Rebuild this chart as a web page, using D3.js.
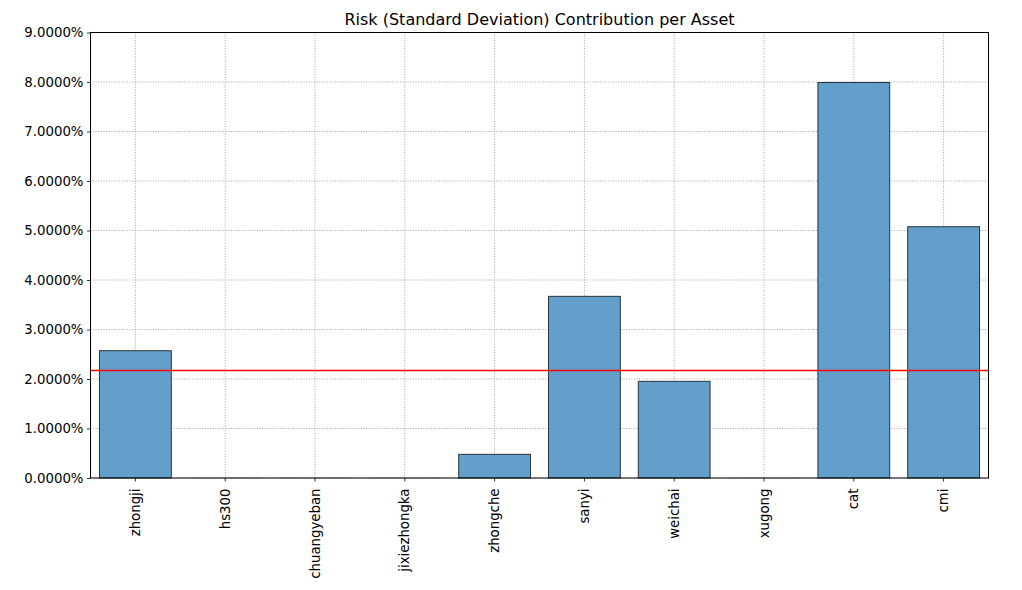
<!DOCTYPE html>
<html>
<head>
<meta charset="utf-8">
<script src="https://cdn.jsdelivr.net/npm/d3@7"></script>
<style>
  body { margin: 0; background: #fff; }
  svg { font-family: "DejaVu Sans", sans-serif; }
</style>
</head>
<body>
<div id="chart"></div>
<script>
const assets = ["zhongji", "hs300", "chuangyeban", "jixiezhongka", "zhongche", "sanyi", "weichai", "xugong", "cat", "cmi"];
const contribution = [0.02572, 0, 0, 0, 0.00478, 0.03670, 0.01953, 0, 0.07990, 0.05077];
const yTicks = [0, 0.01, 0.02, 0.03, 0.04, 0.05, 0.06, 0.07, 0.08, 0.09];
const chartTitle = "Risk (Standard Deviation) Contribution per Asset";

const W = 1022, H = 590;
const margin = {left: 90.5, right: 33.5, top: 32.5, bottom: 112};
const iw = W - margin.left - margin.right;
const ih = H - margin.top - margin.bottom;

const svg = d3.select("#chart").append("svg")
    .attr("width", W).attr("height", H);

const g = svg.append("g").attr("transform", `translate(${margin.left},${margin.top})`);

const x = d3.scaleBand().domain(assets).range([0, iw]).paddingInner(0.2).paddingOuter(0.1);
const y = d3.scaleLinear().domain([0, 0.09]).range([ih, 0]);

// grid
const grid = g.append("g");
grid.selectAll(".gx").data(assets).enter().append("line")
    .attr("x1", d => x(d) + x.bandwidth() / 2).attr("x2", d => x(d) + x.bandwidth() / 2)
    .attr("y1", 0).attr("y2", ih)
    .attr("stroke", "#999").attr("stroke-width", 0.9).attr("stroke-dasharray", "1,1.6");
grid.selectAll(".gy").data(yTicks).enter().append("line")
    .attr("x1", 0).attr("x2", iw)
    .attr("y1", d => y(d)).attr("y2", d => y(d))
    .attr("stroke", "#999").attr("stroke-width", 0.9).attr("stroke-dasharray", "1,1.6");

// bars
g.selectAll(".bar").data(contribution).enter().append("rect")
    .attr("x", (d, i) => x(assets[i]))
    .attr("y", d => y(d))
    .attr("width", x.bandwidth())
    .attr("height", d => Math.max(ih - y(d), 0.01))
    .attr("fill", "rgb(98,160,203)")
    .attr("stroke", d => d > 0 ? "rgba(0,0,0,0.75)" : "rgba(0,0,0,0.15)")
    .attr("stroke-width", 1);

// mean line
const mean = d3.mean(contribution);
g.append("line")
    .attr("x1", 0).attr("x2", iw)
    .attr("y1", y(mean)).attr("y2", y(mean))
    .attr("stroke", "red").attr("stroke-width", 1.5);

// axes
const xAxis = g.append("g").attr("transform", `translate(0,${ih})`)
    .call(d3.axisBottom(x).tickSizeOuter(0).tickSize(3.5).tickPadding(3.5));
xAxis.selectAll("text")
    .attr("transform", "rotate(-90)")
    .attr("text-anchor", "end")
    .attr("x", -10.5).attr("y", 0).attr("dy", "0.35em");

const yAxis = g.append("g")
    .call(d3.axisLeft(y).tickValues(yTicks).tickFormat(d3.format(".4%")).tickSizeOuter(0).tickSize(3.5).tickPadding(3.5));

[xAxis, yAxis].forEach(a => {
    a.selectAll("text").attr("font-size", "13.3px").attr("fill", "#000").attr("font-family", "DejaVu Sans");
    a.selectAll("line").attr("stroke", "#000").attr("stroke-width", 0.8);
    a.select(".domain").remove();
});

// frame
g.append("rect").attr("x", 0).attr("y", 0).attr("width", iw).attr("height", ih)
    .attr("fill", "none").attr("stroke", "#000").attr("stroke-width", 1);

svg.append("text")
    .attr("x", margin.left + iw / 2).attr("y", margin.top - 8)
    .attr("text-anchor", "middle")
    .attr("font-size", "16px")
    .text(chartTitle);
</script>
</body>
</html>
